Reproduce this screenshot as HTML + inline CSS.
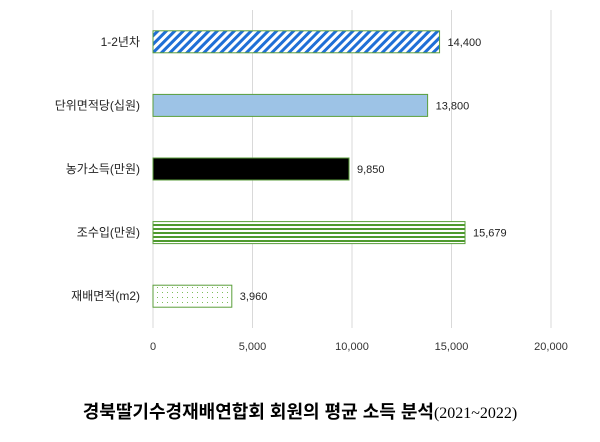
<!DOCTYPE html>
<html><head><meta charset="utf-8"><style>
body{margin:0;background:#fff;width:600px;height:437px;overflow:hidden}
text{font-family:"Liberation Sans","Noto Sans CJK KR",sans-serif}
</style></head><body>
<svg id="c" width="600" height="437">
<defs>
<pattern id="p0" width="6" height="6" patternUnits="userSpaceOnUse" patternTransform="rotate(45)"><rect width="6" height="6" fill="#fff"/><rect width="3" height="6" fill="#1f6fd6"/></pattern>
<pattern id="p3" width="4" height="4" patternUnits="userSpaceOnUse"><rect width="4" height="4" fill="#fff"/><rect width="4" height="2" fill="#4e9a2e"/></pattern>
<pattern id="p4" width="5" height="5" patternUnits="userSpaceOnUse"><rect width="5" height="5" fill="#fff"/><rect x="2" y="2" width="1" height="1" fill="#7cbf5a"/></pattern>
</defs>
<g id="grid"></g><g id="bars"></g>
<text x="300" y="418" text-anchor="middle" font-size="18" font-weight="bold" fill="#000">경북딸기수경재배연합회 회원의 평균 소득 분석<tspan font-weight="normal" font-family="Liberation Serif,serif" font-size="16">(2021~2022)</tspan></text>
</svg>
<script>
const categories=["1-2년차","단위면적당(십원)","농가소득(만원)","조수입(만원)","재배면적(m2)"];
const values=[14400,13800,9850,15679,3960];
const labels=["14,400","13,800","9,850","15,679","3,960"];
const ticks=[0,5000,10000,15000,20000];
const tickLabels=["0","5,000","10,000","15,000","20,000"];
const fills=["url(#p0)","#9dc3e6","#000","url(#p3)","url(#p4)"];
const ns="http://www.w3.org/2000/svg";
const x0=153,x1=551,yTop=10,yBot=328,maxV=20000;
const X=v=>x0+(x1-x0)*v/maxV;
const band=(yBot-yTop)/categories.length;
const g=document.getElementById('grid'),b=document.getElementById('bars');
function mk(t,a,p){const e=document.createElementNS(ns,t);for(const k in a)e.setAttribute(k,a[k]);p.appendChild(e);return e;}
ticks.forEach((t,i)=>{
 const l=mk('line',{x1:X(t),x2:X(t),y1:yTop,y2:yBot,stroke:'#d9d9d9','stroke-width':1},g);
 
 
 const tx=mk('text',{x:X(t),y:yBot+22,'text-anchor':'middle','font-size':11,fill:'#333'},g);
 tx.textContent=tickLabels[i];
 
 
});
const ax=mk('line',{x1:x0,x2:x0,y1:yTop,y2:yBot,stroke:'#d9d9d9'},g);


categories.forEach((c,i)=>{
 const cy=yTop+band*(i+0.5);
 const r=mk('rect',{x:x0,y:cy-11,width:X(values[i])-x0,height:22,fill:fills[i],stroke:'#5a9e3a','stroke-width':1},b);
 
 
 const v=mk('text',{x:X(values[i])+8,y:cy+4,'font-size':11,fill:'#222'},b);
 v.textContent=labels[i];
 
 
 const t=mk('text',{x:140,y:cy+4,'text-anchor':'end','font-size':12,fill:'#222'},b);
 t.textContent=c;
 
 
});
</script>
</body></html>
